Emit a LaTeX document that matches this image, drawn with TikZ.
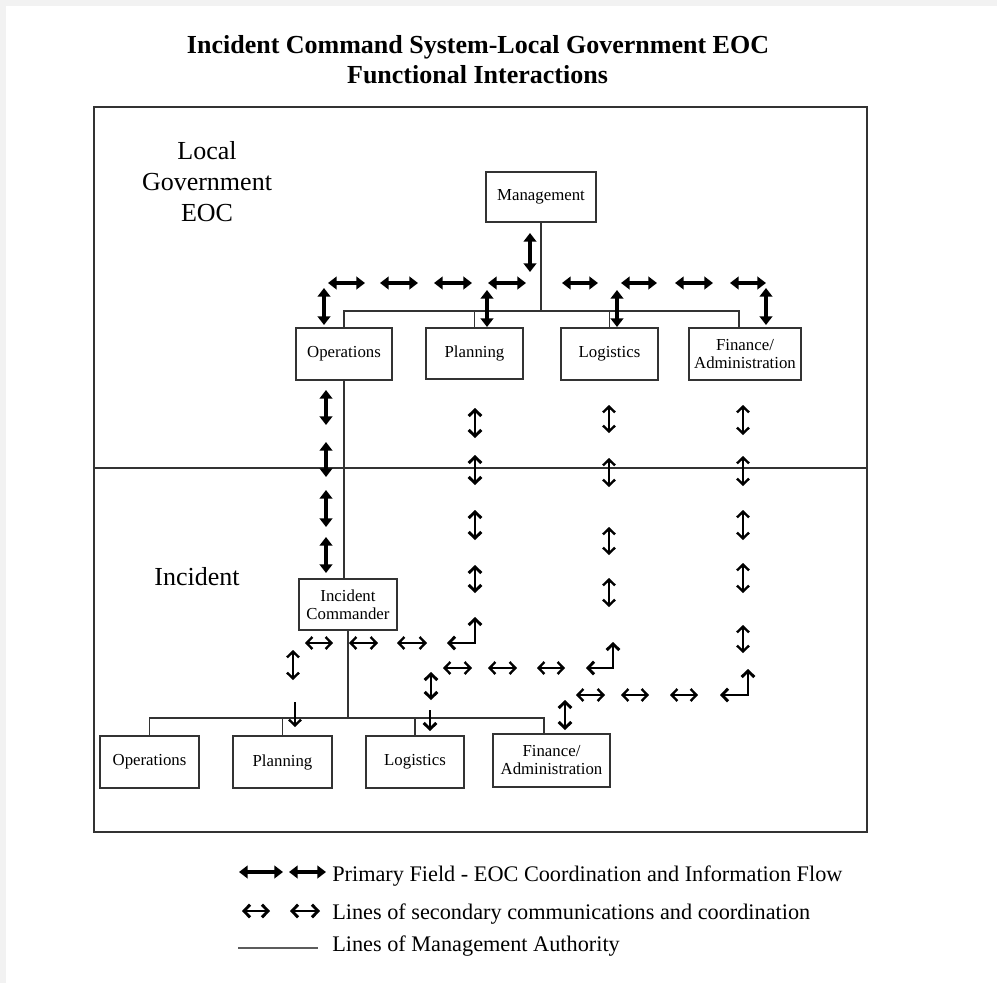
\documentclass[tikz,border=0pt]{standalone}
\usepackage{fontspec}
\setmainfont{Liberation Serif}
\usetikzlibrary{arrows.meta}
\definecolor{pagegray}{HTML}{F2F2F2}
\definecolor{linegray}{HTML}{333333}
\def\pxu{0.75pt}
\begin{document}
\begin{tikzpicture}[x=0.75pt,y=-0.75pt,
  box/.style={draw=linegray, line width=0.9pt, fill=white, inner sep=0pt, align=center,
    font=\fontsize{12.6}{13.5}\selectfont},
  mline/.style={draw=linegray, line width=0.9pt},
  prim/.style={line width=2.4pt, {Triangle[length=6.5pt,width=9.5pt]}-{Triangle[length=6.5pt,width=9.5pt]}},
  bold/.style={line width=2.2pt, {Straight Barb[length=4.5pt,width=9.5pt]}-{Straight Barb[length=4.5pt,width=9.5pt]}},
  sec/.style={line width=1.8pt, {Straight Barb[length=4.3pt,width=9pt]}-{Straight Barb[length=4.3pt,width=9pt]}},
  secdown/.style={line width=1.8pt, -{Straight Barb[length=4.3pt,width=9pt]}},
  bolddown/.style={line width=2.2pt, -{Straight Barb[length=4.5pt,width=9.5pt]}},
  big/.style={font=\fontsize{19.5}{23}\selectfont},
  leg/.style={font=\fontsize{16.7}{20}\selectfont, anchor=base west, inner sep=0pt}]
\useasboundingbox (0,0) rectangle (997,983);
\fill[pagegray] (0,0) rectangle (997,983);
\fill[white] (6,6) rectangle (997,983);

% title
\node[big, font=\fontsize{19.5}{23}\selectfont\bfseries, anchor=base, inner sep=0pt] (t1) at (478,53) {Incident Command System-Local Government EOC};
\node[big, font=\fontsize{19.5}{23}\selectfont\bfseries, anchor=base, inner sep=0pt] (t2) at (477.5,83) {Functional Interactions};

% frame and divider
\node[draw=linegray, line width=0.9pt, minimum width=773*\pxu, minimum height=725*\pxu, inner sep=0pt] (frame) at (480.5,469.5) {};
\coordinate (divy) at (0,468);
\draw[mline] (frame.west |- divy) -- (frame.east |- divy);

% region labels
\node[big, anchor=base, inner sep=0pt] (l1) at (207,159) {Local};
\node[big, anchor=base, inner sep=0pt] (l2) at (207,190) {Government};
\node[big, anchor=base, inner sep=0pt] (l3) at (207,221) {EOC};
\node[big, anchor=base, inner sep=0pt] (inc) at (197,585) {Incident};

% EOC boxes
\node[box, minimum width=110*\pxu, minimum height=50*\pxu] (mgmt) at (541,197) {Management};
\node[box, minimum width=96*\pxu, minimum height=52*\pxu] (ops) at (344,354) {Operations};
\node[box, minimum width=97*\pxu, minimum height=51*\pxu] (plan) at (474.5,353.5) {Planning};
\node[box, minimum width=97*\pxu, minimum height=52*\pxu] (logi) at (609.5,354) {Logistics};
\node[box, minimum width=112*\pxu, minimum height=52*\pxu] (fin) at (745,354) {Finance/\\Administration};

% incident boxes
\node[box, minimum width=98*\pxu, minimum height=51*\pxu] (ic) at (348,604.5) {Incident\\Commander};
\node[box, minimum width=99*\pxu, minimum height=52*\pxu] (bops) at (149.5,762) {Operations};
\node[box, minimum width=99*\pxu, minimum height=52*\pxu] (bplan) at (282.5,762) {Planning};
\node[box, minimum width=98*\pxu, minimum height=52*\pxu] (blog) at (415,762) {Logistics};
\node[box, minimum width=117*\pxu, minimum height=53*\pxu] (bfin) at (551.5,760.5) {Finance/\\Administration};

% management authority lines (EOC)
\coordinate (tbus) at (542,311);
\coordinate (findrop) at (739,328);
\draw[mline] (mgmt.south) -- (mgmt.south |- tbus);
\draw[mline] (ops.north) |- (findrop |- tbus) -- (findrop);
\draw[mline] (plan.north) -- (plan.north |- tbus);
\draw[mline] (logi.north) -- (logi.north |- tbus);
\draw[mline] (ops.south) -- (ops.south |- ic.north);

% management authority lines (incident)
\coordinate (bbus) at (348,718);
\coordinate (bfdrop) at (544,734);
\draw[mline] (ic.south) -- (ic.south |- bbus);
\draw[mline] (bops.north) |- (bfdrop |- bbus) -- (bfdrop);
\draw[mline] (bplan.north) -- (bplan.north |- bbus);
\draw[mline] (blog.north) -- (blog.north |- bbus);

% primary arrows, top row
\foreach \a/\b in {328/365,380/418,434/472,488/526,562/598,621/657,675/713,730/766}
  \draw[prim] (\a,283) -- (\b,283);
\draw[prim] (530,233) -- (530,272);
\draw[prim] (324,288) -- (324,325);
\draw[prim] (487,290) -- (487,327);
\draw[prim] (617,290) -- (617,327);
\draw[prim] (766,288) -- (766,325);

% operations column
\foreach \a/\b in {390/425,442/477,490/527,537/573}
  \draw[prim] (326,\a) -- (326,\b);
% planning column
\foreach \a/\b in {408/438,455/485,510/540,565/593}
  \draw[bold] (475,\a) -- (475,\b);
% logistics column
\foreach \a/\b in {405/433,458/487,527/555,578/607}
  \draw[sec] (609,\a) -- (609,\b);
% finance column
\foreach \a/\b in {405/435,456/486,510/540,563/593,625/653}
  \draw[sec] (743,\a) -- (743,\b);

% corner arrows
\draw[bold] (447,643) -- (475,643) -- (475,617);
\draw[bold] (586,668) -- (613,668) -- (613,642);
\draw[bold] (720,695) -- (748,695) -- (748,669);

% secondary rows
\foreach \a/\b in {305/333,349/378,397/427}
  \draw[sec] (\a,643) -- (\b,643);
\foreach \a/\b in {443/472,488/517,537/565}
  \draw[sec] (\a,668) -- (\b,668);
\foreach \a/\b in {576/605,621/649,670/698}
  \draw[sec] (\a,695) -- (\b,695);

% verticals near incident sections
\draw[sec] (293,650) -- (293,680);
\draw[secdown] (295,702) -- (295,727);
\draw[bold] (431,672) -- (431,700);
\draw[bolddown] (430,710) -- (430,731);
\draw[bold] (565,700) -- (565,730);

% legend
\draw[prim] (239,872) -- (283,872);
\draw[prim] (289,872) -- (326,872);
\node[leg] (lg1) at (332,881) {Primary Field - EOC Coordination and Information Flow};
\draw[bold] (242,911) -- (270,911);
\draw[bold] (290,911) -- (320,911);
\node[leg] (lg2) at (332,919) {Lines of secondary communications and coordination};
\coordinate (lgl) at (238,948);
\draw[mline, draw=linegray!80] (lgl) -- ++(80,0);
\node[leg] (lg3) at (332,951) {Lines of Management Authority};
\end{tikzpicture}
\end{document}
